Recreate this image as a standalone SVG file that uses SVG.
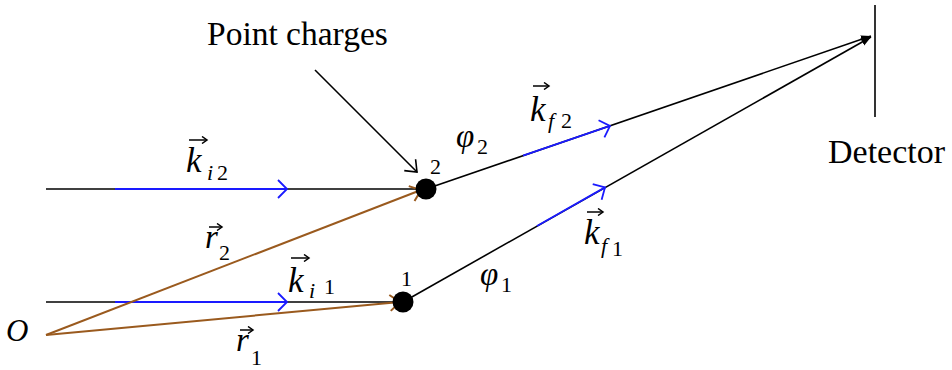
<svg xmlns="http://www.w3.org/2000/svg" width="952" height="370" viewBox="0 0 952 370">
<defs>
<style>
.ln{stroke:#000;stroke-width:1.6;fill:none}
.bl{stroke:#1a1aff;stroke-width:1.8;fill:none}
.br{stroke:#9a5a1e;stroke-width:2;fill:none}
.txt{font-family:"Liberation Serif","Times New Roman",serif;fill:#000}
.m{font-family:"Liberation Serif","Times New Roman",serif;font-style:italic;fill:#000}
.sub{font-family:"Liberation Serif","Times New Roman",serif;font-size:22px;fill:#000}
.vec{stroke:#000;stroke-width:1.5;fill:none}
.chg{fill:#000}
</style>
<marker id="chevBlue" markerUnits="userSpaceOnUse" markerWidth="14" markerHeight="22" refX="11" refY="11" orient="auto" viewBox="0 0 14 22">
<path d="M2,2 L11,11 L2,20" fill="none" stroke="#1a1aff" stroke-width="1.8"/>
</marker>
<marker id="chevBrown" markerUnits="userSpaceOnUse" markerWidth="16" markerHeight="22" refX="12" refY="11" orient="auto" viewBox="0 0 16 22">
<path d="M2,3 L12,11 L2,19" fill="none" stroke="#9a5a1e" stroke-width="2"/>
</marker>
<marker id="chevBlack" markerUnits="userSpaceOnUse" markerWidth="16" markerHeight="20" refX="12" refY="10" orient="auto" viewBox="0 0 16 20">
<path d="M2,2 L12,10 L2,18" fill="none" stroke="#000" stroke-width="1.6"/>
</marker>
<marker id="tipFill" markerUnits="userSpaceOnUse" markerWidth="12" markerHeight="10" refX="10" refY="5" orient="auto" viewBox="0 0 12 10">
<path d="M0,1 L10,5 L0,9 Z" fill="#000"/>
</marker>
<marker id="vecTip" markerUnits="userSpaceOnUse" markerWidth="8" markerHeight="8" refX="6" refY="4" orient="auto" viewBox="0 0 8 8">
<path d="M1,0.5 L6,4 L1,7.5" fill="none" stroke="#000" stroke-width="1.5"/>
</marker>
</defs>

<g id="connectors">
  <line class="ln" x1="46" y1="189" x2="420" y2="189"/>
  <line class="bl" x1="115" y1="189" x2="287" y2="189" marker-end="url(#chevBlue)"/>
  <line class="ln" x1="46" y1="302" x2="396" y2="302"/>
  <line class="bl" x1="115" y1="302" x2="287" y2="302" marker-end="url(#chevBlue)"/>
  <line class="br" x1="46" y1="335" x2="421" y2="190" marker-end="url(#chevBrown)"/>
  <line class="br" x1="46" y1="335" x2="400" y2="302" marker-end="url(#chevBrown)"/>
  <line class="ln" x1="426" y1="189" x2="871" y2="36" marker-end="url(#tipFill)"/>
  <line class="bl" x1="523" y1="155.7" x2="610" y2="125.9" marker-end="url(#chevBlue)"/>
  <line class="ln" x1="403" y1="302" x2="871" y2="37" marker-end="url(#tipFill)"/>
  <line class="bl" x1="537" y1="226" x2="605" y2="187.4" marker-end="url(#chevBlue)"/>
  <line class="ln" x1="315" y1="70" x2="417" y2="172" marker-end="url(#chevBlack)"/>
</g>

<g id="origin">
  <text class="m" x="6" y="341" font-size="31">O</text>
</g>

<g id="charge2">
  <circle class="chg" cx="426" cy="189" r="10.5"/>
  <text class="txt" x="430" y="174" font-size="22">2</text>
</g>

<g id="charge1">
  <circle class="chg" cx="403" cy="302" r="10.5"/>
  <text class="txt" x="401" y="286" font-size="22">1</text>
</g>

<g id="detector">
  <line class="ln" x1="875" y1="5" x2="875" y2="117" stroke-width="2"/>
  <text class="txt" x="828" y="163" font-size="34">Detector</text>
</g>

<g id="point-charges-label">
  <text class="txt" x="207" y="45" font-size="33.5">Point charges</text>
</g>

<g id="labels">
  <!-- k_i2 -->
  <line class="vec" x1="189" y1="140" x2="207" y2="140" marker-end="url(#vecTip)"/>
  <text class="m" x="186" y="172" font-size="35">k</text>
  <text class="sub" x="207" y="180" font-style="italic">i</text>
  <text class="sub" x="217" y="180">2</text>
  <!-- r2 -->
  <line class="vec" x1="209" y1="227" x2="222" y2="227" marker-end="url(#vecTip)"/>
  <text class="m" x="205" y="248" font-size="33">r</text>
  <text class="sub" x="219" y="260">2</text>
  <!-- k_i1 -->
  <line class="vec" x1="291" y1="258" x2="309" y2="258" marker-end="url(#vecTip)"/>
  <text class="m" x="288" y="292" font-size="35">k</text>
  <text class="sub" x="309" y="298" font-style="italic">i</text>
  <text class="sub" x="324" y="294">1</text>
  <!-- r1 -->
  <line class="vec" x1="240" y1="330" x2="253" y2="330" marker-end="url(#vecTip)"/>
  <text class="m" x="236" y="351" font-size="33">r</text>
  <text class="sub" x="251" y="365">1</text>
  <!-- phi2 -->
  <text class="m" x="456" y="147" font-size="33">φ</text>
  <text class="sub" x="477" y="154">2</text>
  <!-- phi1 -->
  <text class="m" x="480" y="285" font-size="33">φ</text>
  <text class="sub" x="501" y="292">1</text>
  <!-- k_f2 -->
  <line class="vec" x1="533" y1="86" x2="549" y2="86" marker-end="url(#vecTip)"/>
  <text class="m" x="530" y="121" font-size="35">k</text>
  <text class="sub" x="548" y="128" font-style="italic">f</text>
  <text class="sub" x="561" y="128">2</text>
  <!-- k_f1 -->
  <line class="vec" x1="587" y1="212" x2="603" y2="212" marker-end="url(#vecTip)"/>
  <text class="m" x="584" y="244" font-size="35">k</text>
  <text class="sub" x="601" y="253" font-style="italic">f</text>
  <text class="sub" x="612" y="256">1</text>
</g>
</svg>
